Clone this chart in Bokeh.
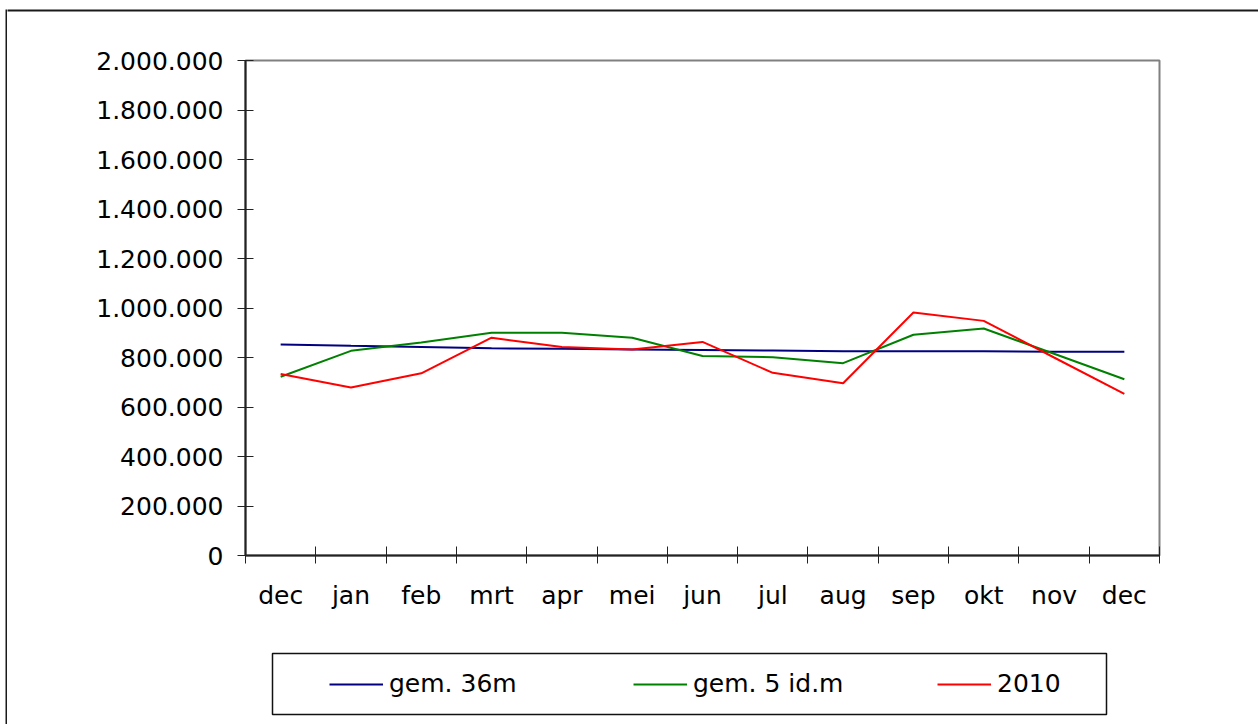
from bokeh.plotting import figure
from bokeh.layouts import column, row
from bokeh.models import Range1d, FixedTicker, Legend, LegendItem
from bokeh.embed import file_html
from bokeh.resources import INLINE

# ---- data ----
months = ["dec", "jan", "feb", "mrt", "apr", "mei", "jun", "jul", "aug", "sep", "okt", "nov", "dec"]
gem_36m = [853000, 847000, 842000, 837000, 835000, 832000, 830000, 828000, 825000, 825000, 825000, 823000, 823000]
gem_5idm = [722000, 827000, 861000, 900000, 900000, 880000, 806000, 801000, 777000, 892000, 917000, 815000, 712000]
y2010 = [733000, 679000, 736000, 880000, 842000, 832000, 863000, 738000, 696000, 982000, 948000, 800000, 653000]
series_names = ["gem. 36m", "gem. 5 id.m", "2010"]
series_colors = ["#000080", "#008000", "#FF0000"]
y_ticks = list(range(0, 2000001, 200000))

FONT = "DejaVu Sans"
FS = "25px"
BORDER = "#1a1a1a"

xs = [i + 0.5 for i in range(len(months))]
series = [gem_36m, gem_5idm, y2010]

# ---- main chart ----
p = figure(width=1251, height=591, output_backend="svg", toolbar_location=None,
           x_range=Range1d(0, len(months)), y_range=Range1d(0, 2000000),
           min_border_left=238, min_border_right=99, min_border_top=13, min_border_bottom=83,
           frame_align=False)
p.xgrid.visible = False
p.ygrid.visible = False
p.outline_line_color = "#808080"
p.outline_line_width = 2
p.background_fill_color = "white"
p.border_fill_color = "white"

xa = p.xaxis[0]
xa.ticker = FixedTicker(ticks=xs, minor_ticks=list(range(len(months) + 1)))
xa.major_label_overrides = {x: m for x, m in zip(xs, months)}
xa.major_tick_in = 0
xa.major_tick_out = 0
xa.minor_tick_in = 9
xa.minor_tick_out = 8
xa.minor_tick_line_color = "#222222"
xa.minor_tick_line_width = 1
xa.axis_line_color = "#222222"
xa.axis_line_width = 2
xa.major_label_text_font = FONT
xa.major_label_text_font_size = FS
xa.major_label_text_color = "black"
xa.major_label_standoff = 17

ya = p.yaxis[0]
ya.ticker = FixedTicker(ticks=y_ticks, minor_ticks=[])
ya.major_label_overrides = {t: f"{t:,}".replace(",", ".") for t in y_ticks}
ya.major_tick_in = 8
ya.major_tick_out = 8
ya.major_tick_line_color = "#222222"
ya.major_tick_line_width = 1
ya.axis_line_color = "#222222"
ya.axis_line_width = 2
ya.major_label_text_font = FONT
ya.major_label_text_font_size = FS
ya.major_label_text_color = "black"
ya.major_label_standoff = 14

for data, color in zip(series, series_colors):
    p.line(xs, data, line_color=color, line_width=2)

# ---- legend panel ----
q = figure(width=1251, height=84, output_backend="svg", toolbar_location=None,
           x_range=Range1d(0, len(months)), y_range=Range1d(0, 2000000),
           x_axis_type=None, y_axis_type=None,
           min_border_left=265, min_border_right=152, min_border_top=15, min_border_bottom=8,
           frame_align=False)
q.xgrid.visible = False
q.ygrid.visible = False
q.outline_line_color = "#111111"
q.outline_line_width = 1.5
q.background_fill_color = "white"
q.border_fill_color = "white"

items = []
for name, data, color in zip(series_names, series, series_colors):
    r = q.line(xs, data, line_color=color, line_width=2, visible=False)
    items.append(LegendItem(label=name, renderers=[r]))

legend = Legend(items=items, location=(57, 15.5), orientation="horizontal",
                padding=0, spacing=0, margin=0, glyph_width=54, glyph_height=30,
                label_height=30, label_width=244, label_standoff=6,
                border_line_color=None, background_fill_alpha=0,
                label_text_font=FONT, label_text_font_size=FS, label_text_color="black")
q.add_layout(legend, "center")

# ---- outer chart border ----
# left edge: a narrow all-dark figure
left_bar = figure(width=2, height=715, output_backend="svg", toolbar_location=None,
                  title=None, x_axis_type=None, y_axis_type=None, min_border=0,
                  frame_align=False)
left_bar.xgrid.visible = False
left_bar.ygrid.visible = False
left_bar.outline_line_color = None
left_bar.background_fill_color = BORDER
left_bar.border_fill_color = BORDER

# top edge: a taller strip whose frame (dark) is only its top 2px
top_bar = figure(width=1251, height=38, output_backend="svg", toolbar_location=None,
                 title=None, x_axis_type=None, y_axis_type=None,
                 min_border_top=0, min_border_left=0, min_border_right=0, min_border_bottom=36,
                 frame_align=False)
top_bar.xgrid.visible = False
top_bar.ygrid.visible = False
top_bar.outline_line_color = None
top_bar.background_fill_color = BORDER
top_bar.border_fill_color = "white"

layout = row(left_bar, column(top_bar, p, q, spacing=0),
             spacing=0, margin=(9, 0, 0, 5))

open("out.html", "w").write(file_html(layout, INLINE))
